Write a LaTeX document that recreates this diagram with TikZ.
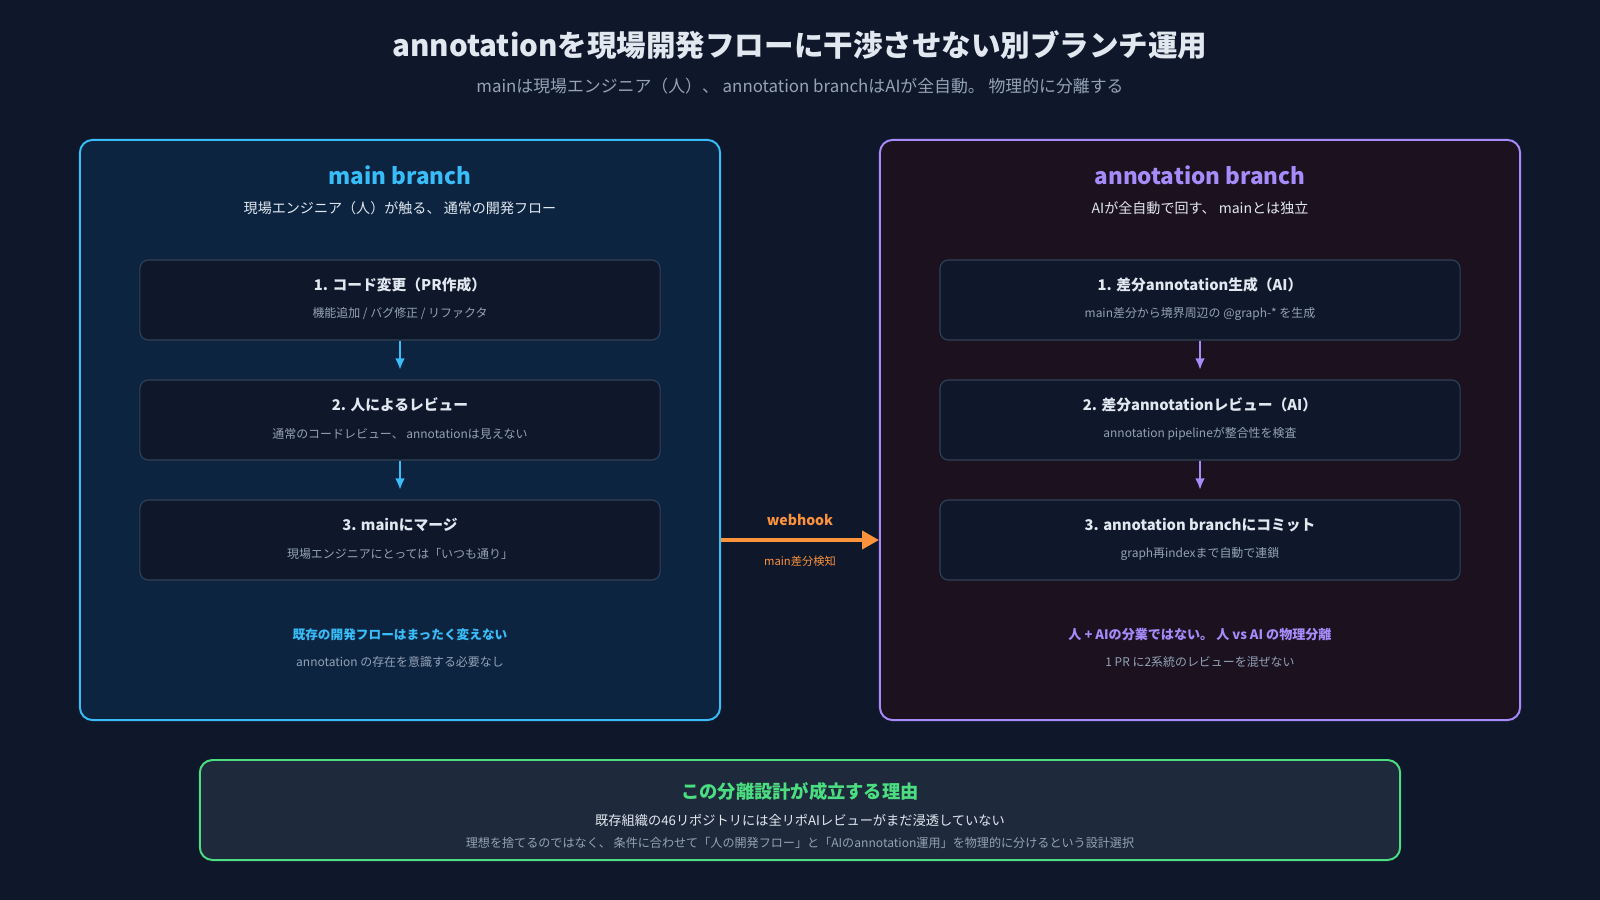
\documentclass[tikz,border=0pt]{standalone}
\usepackage{fontspec}
\setmainfont{Noto Sans CJK JP}
\usetikzlibrary{arrows.meta}

\definecolor{bgdark}{HTML}{0F172A}
\definecolor{mainfill}{HTML}{0C2440}
\definecolor{annfill}{HTML}{1B111F}
\definecolor{boxfill}{HTML}{0F172A}
\definecolor{boxline}{HTML}{334155}
\definecolor{maincol}{HTML}{38BDF8}
\definecolor{anncol}{HTML}{A78BFA}
\definecolor{hookcol}{HTML}{FB923C}
\definecolor{reasoncol}{HTML}{4ADE80}
\definecolor{reasonfill}{HTML}{1E293B}
\definecolor{titletext}{HTML}{E2E8F0}
\definecolor{subtext}{HTML}{94A3B8}

\begin{document}
\begin{tikzpicture}[x=0.025cm, y=-0.025cm,
    every node/.style={inner sep=0pt, align=center},
    panel/.style={draw, line width=1.4pt, rounded corners=9pt, minimum width=16cm, minimum height=14.5cm},
    stepbox/.style={draw=boxline, fill=boxfill, line width=0.8pt, rounded corners=6pt, minimum width=13cm, minimum height=2cm},
    steptitle/.style={text=titletext, font=\fontsize{10.5}{12}\selectfont\bfseries},
    stepnote/.style={text=subtext, font=\fontsize{8.5}{10}\selectfont},
    flow/.style={-{Latex[length=8pt,width=7pt]}, line width=1.2pt, shorten >=7pt}]

    % background and heading
    \fill[bgdark] (0,0) rectangle (1600,900);
    \node[text=titletext, font=\fontsize{21}{25}\selectfont\bfseries] (title) at (800,45) {annotationを現場開発フローに干渉させない別ブランチ運用};
    \node[text=subtext, font=\fontsize{12}{14}\selectfont] (subtitle) at (800,86) {mainは現場エンジニア（人）、 annotation branchはAIが全自動。 物理的に分離する};

    % main branch
    \node[panel, draw=maincol, fill=mainfill] (mainpanel) at (400,430) {};
    \node[text=maincol, font=\fontsize{16}{19}\selectfont\bfseries] (mainhead) at (400,175) {main branch};
    \node[text=titletext, font=\fontsize{10}{12}\selectfont] (mainsub) at (400,208) {現場エンジニア（人）が触る、 通常の開発フロー};

    \node[stepbox] (m1) at (400,300) {};
    \node[steptitle] at (400,285) {1. コード変更（PR作成）};
    \node[stepnote] at (400,314) {機能追加 / バグ修正 / リファクタ};
    \node[stepbox] (m2) at (400,420) {};
    \node[steptitle] at (400,405) {2. 人によるレビュー};
    \node[stepnote] at (400,434) {通常のコードレビュー、 annotationは見えない};
    \node[stepbox] (m3) at (400,540) {};
    \node[steptitle] at (400,525) {3. mainにマージ};
    \node[stepnote] at (400,554) {現場エンジニアにとっては「いつも通り」};

    \draw[flow, maincol] (m1) -- (m2);
    \draw[flow, maincol] (m2) -- (m3);

    \node[text=maincol, font=\fontsize{9}{11}\selectfont\bfseries] (mainnote) at (400,635) {既存の開発フローはまったく変えない};
    \node[text=subtext, font=\fontsize{8.5}{10}\selectfont] (mainnote2) at (400,662) {annotation の存在を意識する必要なし};

    % annotation branch
    \node[panel, draw=anncol, fill=annfill] (annpanel) at (1200,430) {};
    \node[text=anncol, font=\fontsize{16}{19}\selectfont\bfseries] (annhead) at (1200,175) {annotation branch};
    \node[text=titletext, font=\fontsize{10}{12}\selectfont] (annsub) at (1200,208) {AIが全自動で回す、 mainとは独立};

    \node[stepbox] (a1) at (1200,300) {};
    \node[steptitle] at (1200,285) {1. 差分annotation生成（AI）};
    \node[stepnote] at (1200,314) {main差分から境界周辺の @graph-* を生成};
    \node[stepbox] (a2) at (1200,420) {};
    \node[steptitle] at (1200,405) {2. 差分annotationレビュー（AI）};
    \node[stepnote] at (1200,434) {annotation pipelineが整合性を検査};
    \node[stepbox] (a3) at (1200,540) {};
    \node[steptitle] at (1200,525) {3. annotation branchにコミット};
    \node[stepnote] at (1200,554) {graph再indexまで自動で連鎖};

    \draw[flow, anncol] (a1) -- (a2);
    \draw[flow, anncol] (a2) -- (a3);

    \node[text=anncol, font=\fontsize{9.3}{11}\selectfont\bfseries] (annnote) at (1200,635) {人 + AIの分業ではない。 人 vs AI の物理分離};
    \node[text=subtext, font=\fontsize{8.5}{10}\selectfont] (annnote2) at (1200,662) {1 PR に2系統のレビューを混ぜない};

    % webhook
    \draw[-{Triangle[length=12pt,width=13pt]}, hookcol, line width=2.2pt] (mainpanel.east |- m3) -- (annpanel.west |- a3);
    \node[text=hookcol, font=\fontsize{10}{12}\selectfont\bfseries] (hook) at (800,520) {webhook};
    \node[text=hookcol, font=\fontsize{8}{10}\selectfont] (hooknote) at (800,561) {main差分検知};

    % reason
    \node[draw=reasoncol, fill=reasonfill, line width=1.4pt, rounded corners=9pt, minimum width=30cm, minimum height=2.5cm] (reason) at (800,810) {};
    \node[text=reasoncol, font=\fontsize{13}{15}\selectfont\bfseries] (reasonhead) at (800,791) {この分離設計が成立する理由};
    \node[text=titletext, font=\fontsize{9.4}{11}\selectfont] (reason1) at (800,820) {既存組織の46リポジトリには全リポAIレビューがまだ浸透していない};
    \node[text=subtext, font=\fontsize{8.6}{10}\selectfont] (reason2) at (800,843) {理想を捨てるのではなく、 条件に合わせて「人の開発フロー」と「AIのannotation運用」を物理的に分けるという設計選択};
\end{tikzpicture}
\end{document}
